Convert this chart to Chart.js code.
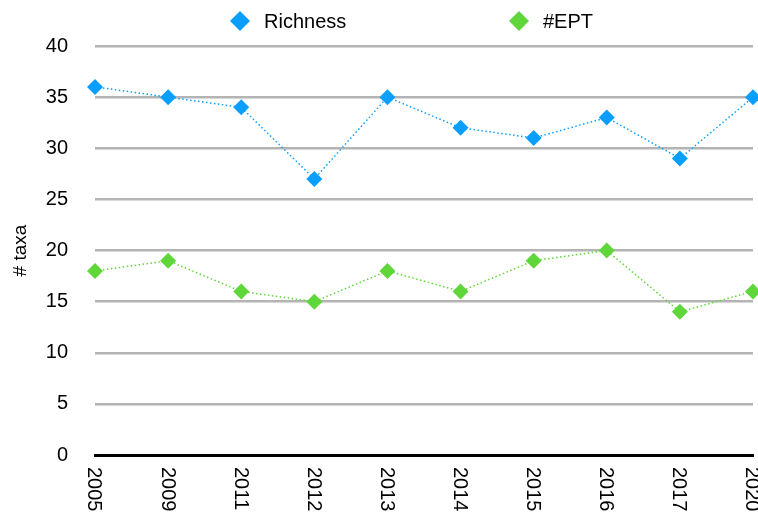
<!DOCTYPE html>
<html>
<head>
<meta charset="utf-8">
<script src="https://cdn.jsdelivr.net/npm/chart.js@4/dist/chart.umd.min.js"></script>
<style>
  html, body { margin: 0; padding: 0; background: #ffffff; }
  #wrap { width: 758px; height: 512px; position: relative; }
</style>
</head>
<body>
<div id="wrap"><canvas id="c" width="758" height="512"></canvas></div>
<script>
// Sampling years and taxa counts
const years = ['2005', '2009', '2011', '2012', '2013', '2014', '2015', '2016', '2017', '2020'];
const richness = [36, 35, 34, 27, 35, 32, 31, 33, 29, 35];
const ept = [18, 19, 16, 15, 18, 16, 19, 20, 14, 16];
const yTicks = [0, 5, 10, 15, 20, 25, 30, 35, 40];

const FONT = 'Liberation Sans, Arial, Helvetica, sans-serif';
const BLUE = '#0a9fff';
const GREEN = '#5fd63a';

// Year labels written top-to-bottom under each tick
const yearLabels = {
  id: 'yearLabels',
  afterDraw(chart) {
    const ctx = chart.ctx;
    const xs = chart.scales.x;
    ctx.save();
    ctx.font = '20px ' + FONT;
    ctx.fillStyle = '#000';
    ctx.textAlign = 'left';
    ctx.textBaseline = 'middle';
    years.forEach((lab, i) => {
      const x = xs.getPixelForTick(i);
      ctx.save();
      ctx.translate(x - 1, chart.chartArea.bottom + 12);
      ctx.rotate(Math.PI / 2);
      ctx.fillText(lab, 0, 0);
      ctx.restore();
    });
    ctx.restore();
  }
};

// Centered legend row with diamond markers
const diamondLegend = {
  id: 'diamondLegend',
  afterDraw(chart) {
    const ctx = chart.ctx;
    const items = [
      { x: 240, ds: chart.data.datasets[0] },
      { x: 519, ds: chart.data.datasets[1] }
    ];
    ctx.save();
    ctx.font = '20px ' + FONT;
    ctx.textAlign = 'left';
    ctx.textBaseline = 'middle';
    items.forEach(it => {
      const cy = 21;
      const r = 10;
      ctx.fillStyle = it.ds.pointBackgroundColor;
      ctx.beginPath();
      ctx.moveTo(it.x, cy - r);
      ctx.lineTo(it.x + r, cy);
      ctx.lineTo(it.x, cy + r);
      ctx.lineTo(it.x - r, cy);
      ctx.closePath();
      ctx.fill();
      ctx.fillStyle = '#000';
      ctx.fillText(it.ds.label, it.x + 24, cy + 1);
    });
    ctx.restore();
  }
};

new Chart(document.getElementById('c'), {
  type: 'line',
  data: {
    labels: years,
    datasets: [
      {
        label: 'Richness',
        data: richness,
        borderColor: BLUE,
        backgroundColor: BLUE,
        pointBackgroundColor: BLUE,
        pointBorderColor: BLUE,
        borderWidth: 1.5,
        borderDash: [1.5, 2.5],
        pointStyle: 'rectRot',
        pointRadius: 8,
        pointBorderWidth: 0,
        tension: 0,
        clip: false
      },
      {
        label: '#EPT',
        data: ept,
        borderColor: GREEN,
        backgroundColor: GREEN,
        pointBackgroundColor: GREEN,
        pointBorderColor: GREEN,
        borderWidth: 1.5,
        borderDash: [1.5, 2.5],
        pointStyle: 'rectRot',
        pointRadius: 8,
        pointBorderWidth: 0,
        tension: 0,
        clip: false
      }
    ]
  },
  options: {
    responsive: false,
    animation: false,
    devicePixelRatio: 1,
    layout: { autoPadding: false, padding: { top: 46, right: 5, left: 0, bottom: 0 } },
    plugins: {
      legend: { display: false },
      tooltip: { enabled: false }
    },
    scales: {
      x: {
        type: 'category',
        offset: false,
        grid: { display: false, drawTicks: false },
        border: { display: true, color: '#000', width: 3 },
        ticks: { display: false },
        afterFit(scale) { scale.height = 57; }
      },
      y: {
        min: 0,
        max: 40,
        afterBuildTicks(scale) { scale.ticks = yTicks.map(v => ({ value: v })); },
        grid: {
          color: ctx => ctx.tick && ctx.tick.value === 0 ? 'rgba(0,0,0,0)' : '#b4b4b4',
          lineWidth: 2.5,
          drawTicks: false
        },
        border: { display: false },
        ticks: {
          color: '#000',
          font: { family: FONT, size: 20 },
          padding: 27
        },
        title: {
          display: true,
          text: '# taxa',
          color: '#000',
          font: { family: FONT, size: 19 },
          padding: { top: 9, bottom: 0 }
        },
        afterFit(scale) { scale.width = 95; }
      }
    }
  },
  plugins: [yearLabels, diamondLegend]
});
</script>
</body>
</html>
